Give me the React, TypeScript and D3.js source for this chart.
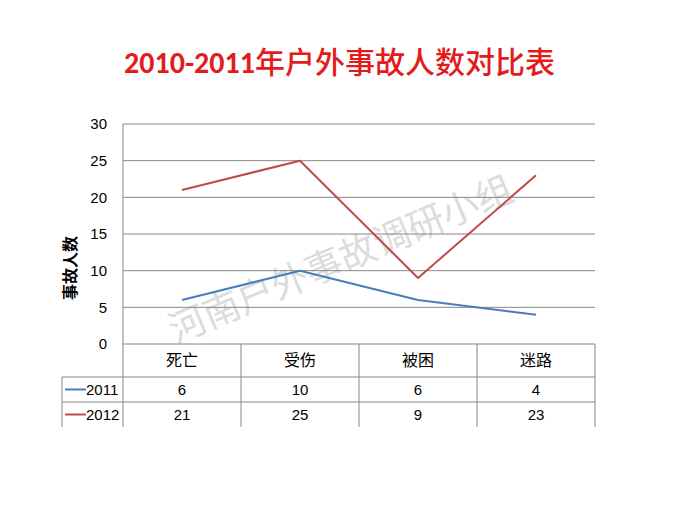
import { useEffect, useRef } from "react"
import * as d3 from "d3"

const categories = ["死亡", "受伤", "被困", "迷路"]
const seriesNames = ["2011", "2012"]
const values2011 = [6, 10, 6, 4]
const values2012 = [21, 25, 9, 23]
const yTicks = [0, 5, 10, 15, 20, 25, 30]

const COLORS = ["#4a7ebb", "#be4b48"]
const W = 679
const H = 507

export default function App() {
  const svgRef = useRef<SVGSVGElement>(null)

  useEffect(() => {
    if (!svgRef.current) return
    const svg = d3.select(svgRef.current)
    svg.selectAll("*").remove()

    const left = 123
    const right = 595
    const top = 124
    const bottom = 344
    const rowH = [33, 25, 25]
    const tableLeft = 62

    const x = d3.scaleBand<string>().domain(categories).range([left, right])
    const y = d3.scaleLinear().domain([0, 30]).range([bottom, top])

    // watermark (behind everything)
    svg.append("text")
      .attr("transform", "translate(342,262) rotate(-23)")
      .attr("text-anchor", "middle")
      .attr("dominant-baseline", "middle")
      .attr("font-family", "'Noto Sans CJK SC', sans-serif")
      .attr("font-size", 37)
      .attr("fill", "#dcdcdc")
      .text("河南户外事故调研小组")

    // title
    const title = svg.append("text")
      .attr("x", W / 2)
      .attr("y", 73)
      .attr("text-anchor", "middle")
      .attr("fill", "#e31b1b")
      .attr("font-size", 30)
    title.append("tspan")
      .attr("font-family", "Carlito, 'Open Sans', 'Liberation Sans', sans-serif")
      .attr("font-weight", "bold")
      .text("2010-2011")
    title.append("tspan")
      .attr("font-family", "'Noto Sans CJK SC', sans-serif")
      .attr("font-weight", 500)
      .text("年户外事故人数对比表")

    // gridlines
    svg.append("g")
      .selectAll("line")
      .data(yTicks)
      .join("line")
      .attr("x1", left)
      .attr("x2", right)
      .attr("y1", (d) => y(d))
      .attr("y2", (d) => y(d))
      .attr("stroke", "#868686")
      .attr("stroke-width", 1)

    // y tick labels
    svg.append("g")
      .selectAll("text")
      .data(yTicks)
      .join("text")
      .attr("x", 107)
      .attr("y", (d) => y(d))
      .attr("dy", "0.35em")
      .attr("text-anchor", "end")
      .attr("font-family", "'Liberation Sans', sans-serif")
      .attr("font-size", 15)
      .attr("fill", "#000")
      .text((d) => d)

    // y axis title
    svg.append("text")
      .attr("transform", `translate(76,268) rotate(-90)`)
      .attr("text-anchor", "middle")
      .attr("font-family", "'Noto Sans CJK SC', sans-serif")
      .attr("font-weight", "bold")
      .attr("font-size", 16)
      .text("事故人数")

    // data table
    const tableBottom = bottom + rowH[0] + rowH[1] + rowH[2]
    const r1 = bottom + rowH[0]
    const r2 = r1 + rowH[1]
    const tg = svg.append("g").attr("stroke", "#868686").attr("stroke-width", 1)
    const bounds = [...categories.map((c) => x(c)!), right]
    tg.selectAll("line.v")
      .data(bounds)
      .join("line")
      .attr("class", "v")
      .attr("x1", (d) => d)
      .attr("x2", (d) => d)
      .attr("y1", bottom)
      .attr("y2", tableBottom)
    tg.append("line").attr("x1", left).attr("x2", left).attr("y1", top).attr("y2", bottom)
    tg.append("line").attr("x1", tableLeft).attr("x2", tableLeft).attr("y1", r1).attr("y2", tableBottom)
    ;[r1, r2].forEach((ry) => {
      tg.append("line").attr("x1", tableLeft).attr("x2", right).attr("y1", ry).attr("y2", ry)
    })

    // category labels
    svg.append("g")
      .selectAll("text")
      .data(categories)
      .join("text")
      .attr("x", (d) => x(d)! + x.bandwidth() / 2)
      .attr("y", bottom + rowH[0] / 2)
      .attr("dy", "0.35em")
      .attr("text-anchor", "middle")
      .attr("font-family", "'Noto Sans CJK SC', sans-serif")
      .attr("font-size", 16)
      .text((d) => d)

    const allValues = [values2011, values2012]
    const rowsY = [r1 + rowH[1] / 2, r2 + rowH[2] / 2]

    allValues.forEach((vals, i) => {
      // line
      const line = d3.line<number>()
        .x((_, j) => x(categories[j])! + x.bandwidth() / 2)
        .y((d) => y(d))
      svg.append("path")
        .attr("d", line(vals))
        .attr("fill", "none")
        .attr("stroke", COLORS[i])
        .attr("stroke-width", 2)
        .attr("stroke-linejoin", "round")

      // legend key
      svg.append("line")
        .attr("x1", 65)
        .attr("x2", 86)
        .attr("y1", rowsY[i])
        .attr("y2", rowsY[i])
        .attr("stroke", COLORS[i])
        .attr("stroke-width", 2)
      svg.append("text")
        .attr("x", 86)
        .attr("y", rowsY[i])
        .attr("dy", "0.35em")
        .attr("font-family", "'Liberation Sans', sans-serif")
        .attr("font-size", 15)
        .text(seriesNames[i])

      // values
      svg.append("g")
        .selectAll("text")
        .data(vals)
        .join("text")
        .attr("x", (_, j) => x(categories[j])! + x.bandwidth() / 2)
        .attr("y", rowsY[i])
        .attr("dy", "0.35em")
        .attr("text-anchor", "middle")
        .attr("font-family", "'Liberation Sans', sans-serif")
        .attr("font-size", 15)
        .text((d) => d)
    })
  }, [])

  return (
    <svg
      ref={svgRef}
      width={W}
      height={H}
      style={{ position: "absolute", left: 0, top: 0, background: "#fff" }}
    />
  )
}
